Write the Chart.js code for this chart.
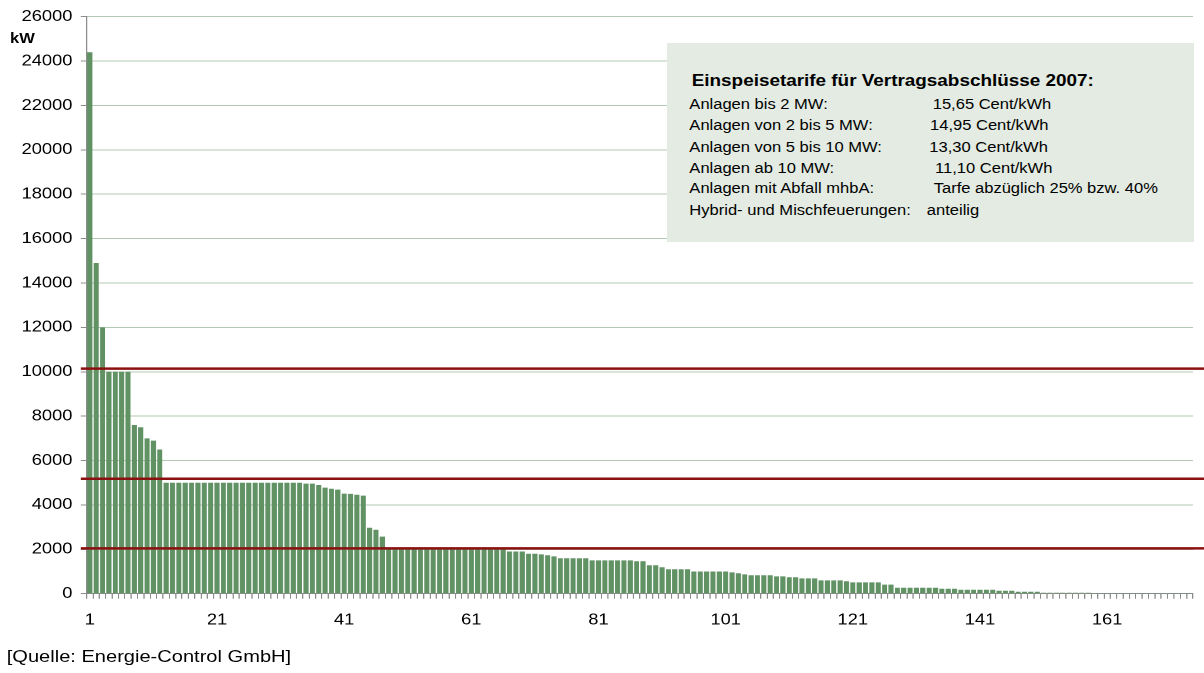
<!DOCTYPE html>
<html>
<head>
<meta charset="utf-8">
<script src="https://cdn.jsdelivr.net/npm/chart.js@4.4.1/dist/chart.umd.min.js"></script>
<style>
    html, body { margin: 0; padding: 0; background: #fff; overflow: hidden; }
    /* the original picture is stretched sideways, so draw narrower and widen it */
    #wrap {
        position: relative; width: 1020px; height: 673px;
        transform: scaleX(1.1804); transform-origin: 0 0;
        font-family: 'Liberation Sans', Arial, sans-serif; color: #000;
    }
    #wrap canvas { position: absolute; left: 0; top: 0; }
    .unit { position: absolute; left: 8.5px; top: 30.7px; font-weight: bold; font-size: 14px; line-height: 14px; }
    .source { position: absolute; left: 5.7px; top: 647.8px; font-size: 17px; line-height: 17px; white-space: pre; }
    .note { position: absolute; left: 565px; top: 43px; width: 446px; height: 199px; background: #e3ebe2; }
    .note .head { position: absolute; left: 21px; top: 29.7px; font-weight: bold; font-size: 16px; line-height: 16px; white-space: pre; }
    .note .row { position: absolute; left: 19px; font-size: 14px; line-height: 14px; white-space: pre; }
    .note .row span { position: absolute; top: 0; }
</style>
</head>
<body>
<div id="wrap">
    <canvas id="capacityChart"></canvas>
    <div class="unit">kW</div>
    <div class="note">
        <div class="head">Einspeisetarife für Vertragsabschlüsse 2007:</div>
        <div class="row" style="top:54.3px">Anlagen bis 2 MW:<span style="left:206.2px">15,65 Cent/kWh</span></div>
        <div class="row" style="top:74.8px">Anlagen von 2 bis 5 MW:<span style="left:203.9px">14,95 Cent/kWh</span></div>
        <div class="row" style="top:96.7px">Anlagen von 5 bis 10 MW:<span style="left:203.3px">13,30 Cent/kWh</span></div>
        <div class="row" style="top:118px">Anlagen ab 10 MW:<span style="left:208.2px">11,10 Cent/kWh</span></div>
        <div class="row" style="top:138.3px">Anlagen mit Abfall mhbA:<span style="left:207px">Tarfe abzüglich 25% bzw. 40%</span></div>
        <div class="row" style="top:159.7px">Hybrid- und Mischfeuerungen:<span style="left:201.2px">anteilig</span></div>
    </div>
    <div class="source">[Quelle: Energie-Control GmbH]</div>
</div>
<script>
// installed capacity per plant in kW, sorted from largest to smallest
const capacity = [
    24400, 14900, 12000, 10000, 10000, 10000, 10000, 7600, 7500, 7000,
    6900, 6500, 5000, 5000, 5000, 5000, 5000, 5000, 5000, 5000,
    5000, 5000, 5000, 5000, 5000, 5000, 5000, 5000, 5000, 5000,
    5000, 5000, 5000, 5000, 4960, 4960, 4900, 4780, 4730, 4690,
    4510, 4500, 4460, 4420, 2970, 2880, 2570, 2000, 2000, 2000,
    2000, 2000, 2000, 2000, 2000, 2000, 2000, 2000, 2000, 2000,
    2000, 2000, 2000, 2000, 2000, 2000, 1900, 1900, 1900, 1800,
    1800, 1770, 1730, 1680, 1600, 1600, 1600, 1600, 1600, 1500,
    1500, 1500, 1500, 1500, 1500, 1500, 1460, 1460, 1280, 1280,
    1190, 1100, 1100, 1100, 1100, 1000, 1000, 1000, 1000, 1000,
    1000, 960, 920, 870, 830, 830, 830, 830, 780, 780,
    740, 740, 690, 690, 690, 600, 600, 600, 600, 560,
    510, 510, 510, 510, 510, 410, 410, 270, 270, 270,
    270, 270, 270, 270, 225, 225, 225, 180, 180, 180,
    180, 180, 180, 135, 135, 135, 90, 90, 90, 90,
    45, 45, 45, 45, 45, 45, 45, 45, 10, 10,
    10, 10, 10, 10, 10, 10, 10, 10, 10, 10,
    10, 10, 10, 10
];
const categories = capacity.map((v, i) => String(i + 1));
const shownTicks = ['1', '21', '41', '61', '81', '101', '121', '141', '161'];
const yTicks = { min: 0, max: 26000, step: 2000 };
// tariff limits drawn as red lines (2, 5 and 10 MW)
const thresholds = [10140, 5180, 2045];

const tickFont = { family: "'Liberation Sans', Arial, sans-serif", size: 15.5 };

const thresholdLines = {
    id: 'thresholdLines',
    afterDatasetsDraw(chart) {
        const { ctx, chartArea, scales: { y } } = chart;
        ctx.save();
        ctx.strokeStyle = '#8b1010';
        ctx.lineWidth = 2.5;
        thresholds.forEach(v => {
            const py = y.getPixelForValue(v);
            ctx.beginPath();
            ctx.moveTo(chartArea.left - 5, py);
            ctx.lineTo(chart.width, py);
            ctx.stroke();
        });
        ctx.restore();
    }
};

new Chart(document.getElementById('capacityChart'), {
    type: 'bar',
    data: {
        labels: categories,
        datasets: [{
            data: capacity,
            backgroundColor: '#609264',
            borderWidth: 0,
            categoryPercentage: 1,
            barPercentage: 0.8
        }]
    },
    options: {
        responsive: true,
        maintainAspectRatio: false,
        animation: false,
        devicePixelRatio: 2,
        layout: { padding: { top: 16.7, right: 9.3, bottom: 0, left: 0 } },
        plugins: { legend: { display: false }, tooltip: { enabled: false } },
        scales: {
            x: {
                afterFit: (scale) => { scale.height = 79.3; },
                grid: { offset: true, drawOnChartArea: false, drawTicks: true, tickLength: 5, tickColor: '#8c8c8c' },
                border: { display: true, color: '#8c8c8c', width: 1 },
                ticks: {
                    autoSkip: false,
                    maxRotation: 0,
                    padding: 12,
                    color: '#000',
                    font: tickFont,
                    callback: (val, i) => shownTicks.includes(categories[i]) ? categories[i] : ''
                }
            },
            y: {
                min: yTicks.min,
                max: yTicks.max,
                afterFit: (scale) => { scale.width = 73.4; },
                grid: { color: '#b3cbb3', lineWidth: 1, drawTicks: true, tickLength: 5, tickColor: '#8c8c8c' },
                border: { display: true, color: '#8c8c8c', width: 1 },
                ticks: {
                    stepSize: yTicks.step,
                    padding: 7,
                    color: '#000',
                    font: tickFont,
                    callback: (val) => String(val)
                }
            }
        }
    },
    plugins: [thresholdLines]
});
</script>
</body>
</html>
